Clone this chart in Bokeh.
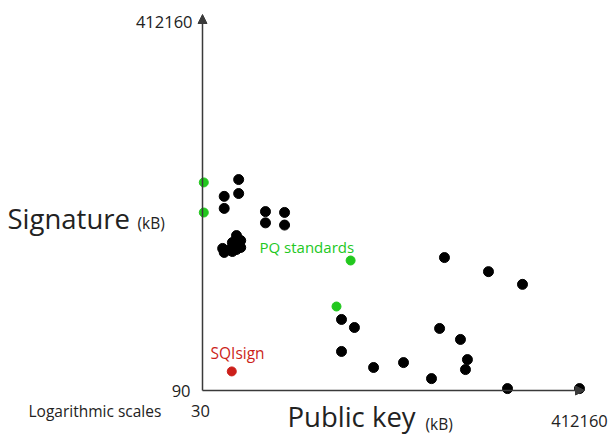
import math
from bokeh.plotting import figure
from bokeh.models import ColumnDataSource, Label, Arrow, NormalHead, Range1d
from bokeh.embed import file_html
from bokeh.resources import INLINE

# ---------------- data (kB, log scales) ----------------
other_pk = [75, 75, 52, 52, 148, 148, 240, 240,
            71, 79, 64, 79, 71, 60, 52, 50, 64,
            13800, 42100, 99700, 1016, 1410, 12200, 20700, 1016,
            24700, 2290, 4890, 23500, 9940, 68200, 422700]
other_sig = [11000, 8000, 7500, 5700, 5300, 4100, 5200, 3900,
             3070, 2740, 2620, 2340, 2235, 2235, 2090, 2290, 2135,
             1860, 1350, 1010, 454, 378, 370, 288, 219,
             182, 152, 170, 145, 118, 94, 94]
pq_pk = [31, 31, 1280, 895]
pq_sig = [10300, 5190, 1740, 610]
sqi_pk = [63]
sqi_sig = [139]

x_min, x_max = 30, 412160
y_min, y_max = 90, 412160
x_tick_labels = ["30", "412160"]
y_tick_labels = ["90", "412160"]

# ---------------- layout helpers ----------------
W, H = 609, 434
X0, X1 = 202, 578   # pixel columns of x_min / x_max
Y0, Y1 = 390, 20    # pixel rows of y_min / y_max
kx = (math.log10(x_max) - math.log10(x_min)) / (X1 - X0)
ky = (math.log10(y_max) - math.log10(y_min)) / (Y0 - Y1)

def px(col):
    return 10 ** (math.log10(x_min) + (col - X0) * kx)

def py(row):
    return 10 ** (math.log10(y_min) + (Y0 - row) * ky)

p = figure(width=W, height=H, x_axis_type="log", y_axis_type="log",
           x_axis_location=None, y_axis_location=None,
           x_range=Range1d(px(0), px(W)), y_range=Range1d(py(H), py(0)),
           min_border=0, output_backend="svg", toolbar_location=None,
           outline_line_color=None, background_fill_color="white")
for g in p.grid:
    g.visible = False

AX = "#3a3a3a"
FONT = "Open Sans"
GREEN = "#22c81e"
RED = "#cc1f1a"

# axes with arrows
p.add_layout(Arrow(x_start=px(X0), y_start=py(Y0), x_end=px(584), y_end=py(Y0),
                   line_color=AX, line_width=1.5,
                   end=NormalHead(size=9, fill_color=AX, line_color=AX)))
p.add_layout(Arrow(x_start=px(X0), y_start=py(Y0), x_end=px(X0), y_end=py(14),
                   line_color=AX, line_width=1.5,
                   end=NormalHead(size=9, fill_color=AX, line_color=AX)))

# points
p.scatter(other_pk, other_sig, size=10, color="black")
p.scatter(pq_pk, pq_sig, size=9, color=GREEN)
p.scatter(sqi_pk, sqi_sig, size=9, color=RED)

def lab(col, row, text, size, color="#222222", align="left", baseline="middle"):
    p.add_layout(Label(x=px(col), y=py(row), text=text, text_font=FONT,
                       text_font_size=f"{size}px", text_color=color,
                       text_align=align, text_baseline=baseline))

# tick labels
lab(192, 21, y_tick_labels[1], 16.5, align="right")
lab(190, 390, y_tick_labels[0], 16.5, align="right")
lab(200, 410, x_tick_labels[0], 16.5, align="center")
lab(579, 420, x_tick_labels[1], 16.5, align="center")
lab(28, 410, "Logarithmic scales", 15.5)

# axis titles
lab(7, 218, "Signature", 27.5)
lab(137, 222, "(kB)", 15.5)
lab(287, 416, "Public key", 27.5)
lab(425, 423, "(kB)", 15.5)

# annotations
lab(259, 246, "PQ standards", 15, color=GREEN)
lab(210, 352, "SQIsign", 15.5, color=RED)

open("out.html", "w").write(file_html(p, INLINE))
